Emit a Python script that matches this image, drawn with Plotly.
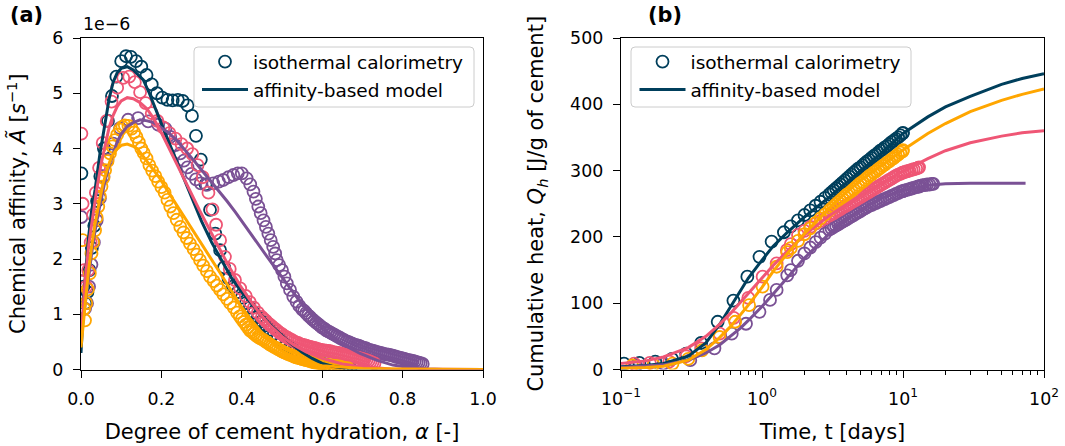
import plotly.graph_objects as go

W, H = 1065, 446
FONT = "DejaVu Sans"

TEAL, PURPLE, PINK, ORANGE = "#003f5c", "#7a5195", "#ef5675", "#ffa600"

# ---------------- panel (a): chemical affinity (1e-6 1/s) vs degree of hydration
a_alpha_teal = [0.001, 0.006, 0.011, 0.016, 0.021, 0.027, 0.033, 0.040, 0.048, 0.057, 0.067, 0.077,
                0.088, 0.100, 0.112, 0.124, 0.137, 0.150, 0.163, 0.176, 0.189, 0.202, 0.215, 0.228,
                0.241, 0.253, 0.265, 0.276, 0.286, 0.298, 0.310, 0.321, 0.334, 0.346, 0.356, 0.367,
                0.378, 0.390, 0.400, 0.410, 0.420, 0.430, 0.440, 0.450, 0.460, 0.470, 0.480, 0.490,
                0.500, 0.510, 0.520, 0.530, 0.540, 0.550, 0.560, 0.570, 0.580, 0.590, 0.600, 0.610,
                0.620, 0.630, 0.640, 0.650, 0.660, 0.670]
a_aff_teal = [3.55, 1.50, 1.20, 1.40, 1.80, 2.20, 2.60, 3.05, 3.50, 4.00, 4.50, 4.95,
              5.30, 5.58, 5.67, 5.66, 5.58, 5.48, 5.33, 5.16, 5.00, 4.92, 4.88, 4.87,
              4.88, 4.86, 4.78, 4.59, 4.23, 3.80, 3.35, 2.89, 2.46, 2.16, 1.85, 1.65,
              1.50, 1.40, 1.30, 1.20, 1.12, 1.03, 0.95, 0.87, 0.80, 0.72, 0.65, 0.58,
              0.52, 0.46, 0.40, 0.35, 0.30, 0.26, 0.22, 0.19, 0.16, 0.13, 0.11, 0.09,
              0.07, 0.06, 0.05, 0.04, 0.03, 0.02]

a_alpha_purple = [0.001, 0.005, 0.010, 0.015, 0.020, 0.026, 0.032, 0.039, 0.047, 0.056, 0.066, 0.080,
                  0.097, 0.117, 0.142, 0.167, 0.192, 0.210, 0.222, 0.235, 0.247, 0.256, 0.265, 0.275,
                  0.286, 0.298, 0.313, 0.329, 0.343, 0.354, 0.367, 0.379, 0.390, 0.400, 0.412, 0.421,
                  0.429, 0.435, 0.441, 0.447, 0.454, 0.460, 0.466, 0.472, 0.478, 0.483, 0.487, 0.493,
                  0.500, 0.506, 0.512, 0.520, 0.528, 0.536, 0.543,
                  0.550, 0.555, 0.560, 0.565, 0.570, 0.575, 0.580, 0.585, 0.590, 0.595, 0.600, 0.605,
                  0.610, 0.615, 0.620, 0.625, 0.630, 0.635, 0.640, 0.645, 0.650, 0.655, 0.660, 0.665,
                  0.670, 0.675, 0.680, 0.685, 0.690, 0.695, 0.700, 0.705, 0.710, 0.715, 0.720, 0.725,
                  0.730, 0.735, 0.740, 0.745, 0.750, 0.755, 0.760, 0.765, 0.770, 0.775, 0.780, 0.785,
                  0.790, 0.795, 0.800, 0.805, 0.810, 0.815, 0.820, 0.825, 0.830, 0.835, 0.840, 0.845,
                  0.850]
a_aff_purple = [2.76, 1.60, 1.10, 1.20, 1.50, 1.90, 2.30, 2.70, 3.10, 3.50, 3.80, 4.09,
                4.37, 4.52, 4.55, 4.49, 4.43, 4.36, 4.21, 4.06, 3.91, 3.78, 3.66, 3.54,
                3.44, 3.37, 3.34, 3.37, 3.40, 3.43, 3.48, 3.52, 3.55, 3.55, 3.46, 3.35,
                3.22, 3.09, 2.95, 2.83, 2.70, 2.58, 2.46, 2.34, 2.22, 2.10, 1.98, 1.89,
                1.80, 1.68, 1.56, 1.44, 1.32, 1.23, 1.15,
                1.09, 1.06, 1.02, 0.98, 0.95, 0.91, 0.88, 0.85, 0.82, 0.79, 0.76, 0.74,
                0.71, 0.69, 0.67, 0.65, 0.63, 0.61, 0.59, 0.57, 0.55, 0.53, 0.51, 0.50,
                0.48, 0.47, 0.45, 0.44, 0.43, 0.42, 0.40, 0.39, 0.38, 0.36, 0.35, 0.34,
                0.33, 0.32, 0.31, 0.30, 0.29, 0.28, 0.275, 0.27, 0.26, 0.25, 0.24, 0.23,
                0.22, 0.21, 0.20, 0.19, 0.18, 0.17, 0.165, 0.155, 0.145, 0.135, 0.125, 0.115,
                0.10]

a_alpha_pink = [0.001, 0.004, 0.008, 0.013, 0.018, 0.024, 0.030, 0.037, 0.045, 0.054, 0.064, 0.076,
                0.090, 0.105, 0.120, 0.134, 0.147, 0.161, 0.176, 0.190, 0.205, 0.220, 0.235, 0.250,
                0.264, 0.277, 0.290, 0.303, 0.317, 0.327, 0.336, 0.346, 0.358, 0.370, 0.383, 0.396,
                0.410, 0.420, 0.430, 0.440,
                0.450, 0.455, 0.460, 0.465, 0.470, 0.475, 0.480, 0.485, 0.490, 0.495, 0.500, 0.505,
                0.510, 0.515, 0.520, 0.525, 0.530, 0.535, 0.540, 0.545, 0.550, 0.555, 0.560, 0.565,
                0.570, 0.575, 0.580, 0.585, 0.590, 0.595, 0.600, 0.605, 0.610, 0.615, 0.620, 0.625,
                0.630, 0.635, 0.640, 0.645, 0.650, 0.655, 0.660, 0.665, 0.670, 0.675, 0.680, 0.685,
                0.690, 0.695, 0.700, 0.705, 0.710, 0.715, 0.720, 0.725, 0.730]
a_aff_pink = [4.27, 3.00, 1.80, 1.50, 1.80, 2.30, 2.80, 3.20, 3.65, 4.10, 4.50, 4.85,
              5.10, 5.28, 5.30, 5.20, 5.02, 4.82, 4.64, 4.50, 4.38, 4.28, 4.18, 4.08,
              4.00, 3.90, 3.70, 3.48, 3.20, 2.90, 2.62, 2.34, 2.04, 1.82, 1.62, 1.47,
              1.33, 1.22, 1.12, 1.03,
              0.95, 0.91, 0.88, 0.84, 0.81, 0.78, 0.75, 0.72, 0.69, 0.66, 0.64, 0.61,
              0.59, 0.57, 0.55, 0.53, 0.51, 0.49, 0.48, 0.46, 0.45, 0.44, 0.43, 0.42,
              0.41, 0.40, 0.39, 0.38, 0.37, 0.36, 0.35, 0.345, 0.34, 0.335, 0.33, 0.32,
              0.31, 0.305, 0.30, 0.29, 0.28, 0.27, 0.26, 0.255, 0.25, 0.24, 0.23, 0.22,
              0.21, 0.20, 0.19, 0.18, 0.17, 0.155, 0.14, 0.125, 0.11]

a_alpha_orange = [0.004, 0.008, 0.010, 0.013, 0.017, 0.022, 0.026, 0.030, 0.035, 0.039, 0.043, 0.047,
                  0.051, 0.056, 0.060, 0.066, 0.072, 0.078, 0.084, 0.090, 0.097, 0.103, 0.109, 0.118,
                  0.126, 0.132, 0.138, 0.144, 0.150, 0.156, 0.163, 0.170, 0.177, 0.185, 0.192, 0.200,
                  0.208, 0.215, 0.222, 0.230, 0.238, 0.247, 0.255, 0.263, 0.271, 0.280, 0.288, 0.296,
                  0.304, 0.313, 0.321, 0.330, 0.338, 0.346, 0.354, 0.363, 0.371, 0.380, 0.388, 0.395,
                  0.400, 0.405, 0.410, 0.415, 0.420, 0.425, 0.430, 0.435, 0.440, 0.445, 0.450, 0.455,
                  0.460, 0.465, 0.470, 0.475, 0.480, 0.485, 0.490, 0.495, 0.500, 0.505, 0.510, 0.515,
                  0.520, 0.525, 0.530, 0.535, 0.540, 0.545, 0.550, 0.555, 0.560, 0.565, 0.570, 0.575,
                  0.580, 0.585, 0.590, 0.595, 0.600, 0.605, 0.610, 0.615, 0.620, 0.625, 0.630, 0.635,
                  0.640, 0.645, 0.650, 0.655, 0.660, 0.665]
a_aff_orange = [2.34, 1.10, 0.89, 1.20, 1.45, 1.74, 2.10, 2.30, 2.52, 2.75, 2.95, 3.13,
                3.31, 3.47, 3.61, 3.77, 3.91, 4.04, 4.15, 4.25, 4.34, 4.39, 4.42, 4.41,
                4.36, 4.29, 4.21, 4.11, 4.00, 3.92, 3.82, 3.70, 3.60, 3.50, 3.40, 3.30,
                3.20, 3.07, 2.95, 2.83, 2.71, 2.58, 2.48, 2.38, 2.28, 2.18, 2.08, 1.98,
                1.88, 1.78, 1.68, 1.60, 1.52, 1.44, 1.36, 1.28, 1.20, 1.12, 1.03, 0.96,
                0.91, 0.86, 0.81, 0.76, 0.71, 0.68, 0.65, 0.62, 0.59, 0.57, 0.55, 0.53,
                0.50, 0.48, 0.45, 0.43, 0.41, 0.39, 0.37, 0.35, 0.33, 0.31, 0.295, 0.28,
                0.265, 0.25, 0.235, 0.22, 0.21, 0.20, 0.19, 0.18, 0.17, 0.16, 0.15, 0.14,
                0.13, 0.12, 0.115, 0.11, 0.10, 0.09, 0.085, 0.08, 0.075, 0.07, 0.065, 0.06,
                0.055, 0.05, 0.04, 0.03, 0.025, 0.02]

m_alpha_teal = [0.0, 0.005, 0.01, 0.018, 0.026, 0.035, 0.047, 0.06, 0.07, 0.08, 0.09, 0.10, 0.115,
                0.13, 0.155, 0.17, 0.189, 0.20, 0.225, 0.25, 0.275, 0.30, 0.325, 0.35, 0.375, 0.40,
                0.425, 0.45, 0.475, 0.50, 0.525, 0.55, 0.575, 0.60, 0.625, 0.65, 0.675, 0.70, 1.0]
m_aff_teal = [0.30, 1.00, 1.60, 2.34, 2.85, 3.25, 3.90, 4.46, 4.90, 5.20, 5.37, 5.45, 5.48,
              5.42, 5.24, 5.00, 4.64, 4.45, 4.00, 3.55, 3.10, 2.68, 2.30, 1.97, 1.65, 1.40,
              1.18, 0.97, 0.78, 0.61, 0.45, 0.31, 0.20, 0.11, 0.06, 0.03, 0.01, 0.0, 0.0]

m_alpha_purple = [0.0, 0.005, 0.01, 0.02, 0.03, 0.04, 0.05, 0.06, 0.07, 0.08, 0.09, 0.10, 0.115,
                  0.13, 0.147, 0.165, 0.18, 0.197, 0.215, 0.238, 0.26, 0.28, 0.30, 0.321, 0.342,
                  0.363, 0.384, 0.404, 0.425, 0.445, 0.466, 0.487, 0.508, 0.528, 0.553, 0.578,
                  0.602, 0.627, 0.66, 0.694, 0.735, 0.776, 0.82, 0.86, 0.90, 1.0]
m_aff_purple = [0.60, 0.90, 1.20, 1.80, 2.30, 2.72, 3.10, 3.42, 3.70, 3.93, 4.12, 4.26, 4.40,
                4.47, 4.52, 4.50, 4.47, 4.39, 4.30, 4.15, 3.97, 3.79, 3.61, 3.43, 3.25,
                3.05, 2.85, 2.64, 2.43, 2.22, 2.01, 1.80, 1.59, 1.38, 1.15, 0.95,
                0.76, 0.59, 0.42, 0.29, 0.17, 0.08, 0.03, 0.01, 0.0, 0.0]

m_alpha_pink = [0.0, 0.005, 0.01, 0.02, 0.03, 0.04, 0.05, 0.06, 0.07, 0.08, 0.09, 0.10, 0.115,
                0.13, 0.145, 0.164, 0.18, 0.197, 0.22, 0.245, 0.27, 0.295, 0.32, 0.345, 0.37,
                0.395, 0.42, 0.445, 0.47, 0.50, 0.528, 0.56, 0.60, 0.65, 0.70, 0.77, 1.0]
m_aff_pink = [0.50, 1.10, 1.60, 2.30, 2.85, 3.30, 3.72, 4.08, 4.38, 4.60, 4.76, 4.86, 4.92,
              4.90, 4.84, 4.72, 4.55, 4.33, 3.98, 3.60, 3.25, 2.88, 2.52, 2.18, 1.84,
              1.53, 1.26, 1.01, 0.80, 0.60, 0.45, 0.32, 0.20, 0.10, 0.05, 0.01, 0.0]

m_alpha_orange = [0.0, 0.005, 0.01, 0.018, 0.026, 0.035, 0.045, 0.055, 0.065, 0.076, 0.088, 0.101,
                  0.115, 0.13, 0.142, 0.158, 0.175, 0.197, 0.22, 0.245, 0.27, 0.295, 0.321, 0.345,
                  0.37, 0.395, 0.42, 0.445, 0.47, 0.50, 0.53, 0.56, 0.60, 0.65, 0.70, 0.80, 1.0]
m_aff_orange = [0.40, 0.80, 1.15, 1.74, 2.20, 2.64, 3.02, 3.37, 3.62, 3.85, 3.98, 4.06,
                4.08, 4.04, 3.98, 3.83, 3.67, 3.45, 3.18, 2.90, 2.62, 2.34, 2.04, 1.76,
                1.47, 1.18, 0.93, 0.71, 0.52, 0.33, 0.20, 0.12, 0.07, 0.04, 0.02, 0.01, 0.0]

# ---------------- panel (b): cumulative heat (J/g of cement) vs time (days)
# measurement times shared by all mixes from 1.6 days on (later points are logged more densely)
t_late = [1.6, 1.8, 2.0, 2.2, 2.4, 2.6, 2.8,
          3.0, 3.11, 3.23, 3.35, 3.47, 3.6, 3.73, 3.87, 4.01, 4.16, 4.31, 4.47, 4.64, 4.81, 4.99,
          5.17, 5.36, 5.56, 5.77, 5.98, 6.2, 6.43, 6.67, 6.91, 7.17, 7.43, 7.71, 7.99, 8.29, 8.59,
          8.91, 9.24, 9.58, 9.93, 10.0,
          10.3, 10.7, 11.1, 11.5, 11.9, 12.4, 12.8, 13.0,
          13.3, 13.8, 14.3, 14.8, 15.4, 16.0, 16.4]

b_t_teal_early = [0.105, 0.135, 0.175, 0.23, 0.29, 0.37, 0.485, 0.627, 0.787, 0.96, 1.17, 1.43]
b_q_teal_early = [9, 10, 12, 16, 24, 40, 72, 104, 140, 170, 193, 207]
b_q_teal_late = [216, 225, 233, 240, 247, 253, 259,
                 264, 267, 270, 273, 276, 279, 282, 285, 288, 291, 294, 297, 300, 303, 305,
                 308, 311, 314, 316, 319, 322, 324, 327, 330, 332, 335, 337, 340, 343, 345,
                 348, 350, 353, 356, 357]

b_t_purple_early = [0.128, 0.2, 0.31, 0.46, 0.61, 0.77, 0.96, 1.14, 1.27, 1.51]
b_q_purple_early = [6, 9, 14, 32, 54, 69, 87, 105, 120, 142]
b_q_purple_late = [150, 164, 175, 184, 192, 199, 205,
                   211, 213, 215, 217, 219, 221, 223, 225, 227, 229, 231, 233, 235, 237, 239,
                   241, 243, 245, 247, 248, 250, 251, 253, 254, 256, 257, 259, 260, 262, 263,
                   265, 266, 268, 269, 269,
                   270, 271, 272, 273, 274, 275, 276, 276,
                   277, 278, 278, 279, 279, 280, 280]

b_t_pink_early = [0.124, 0.16, 0.22, 0.29, 0.37, 0.5, 0.63, 0.8, 1.01, 1.27, 1.5]
b_q_pink_early = [9, 10, 12, 20, 32, 54, 78, 108, 140, 160, 180]
b_q_pink_late = [189, 203, 209, 215, 220, 224, 228,
                 232, 234, 236, 238, 240, 242, 244, 246, 248, 250, 252, 254, 256, 258, 260,
                 262, 264, 266, 268, 270, 272, 274, 276, 278, 280, 282, 284, 286, 288, 290,
                 292, 294, 295, 297, 297,
                 298, 299, 300, 301, 302, 303, 304, 305]

b_t_orange_early = [0.12, 0.17, 0.232, 0.3, 0.376, 0.5, 0.645, 0.81, 1.01, 1.27, 1.51]
b_q_orange_early = [6, 7, 9, 16, 29, 49, 72, 97, 125, 155, 177]
b_q_orange_late = [183, 194, 204, 213, 221, 228, 234,
                   240, 243, 246, 249, 252, 255, 258, 261, 264, 266, 269, 272, 275, 278, 281,
                   283, 286, 289, 292, 294, 297, 299, 302, 304, 307, 309, 312, 314, 317, 319,
                   322, 324, 327, 329, 331]

bm_t = [0.1, 0.15, 0.2, 0.3, 0.4, 0.5, 0.6, 0.7, 0.8, 1.0, 1.2, 1.5, 2, 3, 4, 5, 7, 10, 15, 20,
        30, 50, 70, 100]
bm_q_teal = [4, 6, 9, 20, 40, 68, 95, 118, 138, 165, 186, 206, 230, 260, 282, 299, 326, 356,
             381, 396, 412, 430, 439, 446]
bm_q_pink = [9, 13, 19, 33, 50, 68, 85, 101, 115, 138, 157, 178, 203, 232, 250, 263, 281, 299,
             318, 330, 342, 352, 357, 360]
bm_q_orange = [2, 3, 5, 14, 30, 48, 65, 82, 97, 124, 148, 174, 205, 243, 268, 285, 308, 331,
               356, 371, 389, 406, 415, 423]
bm_t_purple = [0.1, 0.15, 0.2, 0.3, 0.4, 0.5, 0.6, 0.7, 0.8, 1.0, 1.2, 1.5, 2, 3, 4, 5, 7, 10, 15,
               20, 30, 50, 74]
bm_q_purple = [3, 5, 7, 14, 25, 37, 50, 62, 74, 95, 114, 138, 168, 205, 227, 241, 258, 270, 278,
               280, 281, 281, 281]

LBL_EXP = "isothermal calorimetry"
LBL_MOD = "affinity-based model"


def series(t_early, q_early, q_late):
    """Join the sparse early readings with the densely logged later ones."""
    return t_early + t_late[:len(q_late)], q_early + q_late


fig = go.Figure()


def exp_trace(x, y, color, xa, ya, legend, show):
    return go.Scatter(x=x, y=y, mode="markers", name=LBL_EXP, xaxis=xa, yaxis=ya,
                      marker=dict(symbol="circle-open", size=12, color=color,
                                  line=dict(width=1.8, color=color)),
                      showlegend=show, legend=legend, legendgroup=legend + "e")


def mod_trace(x, y, color, xa, ya, legend, show):
    return go.Scatter(x=x, y=y, mode="lines", name=LBL_MOD, xaxis=xa, yaxis=ya,
                      line=dict(color=color, width=3), showlegend=show,
                      legend=legend, legendgroup=legend + "m")


# panel (a): measurements first, model curves on top
for x, y, c, s in [(a_alpha_teal, a_aff_teal, TEAL, True), (a_alpha_purple, a_aff_purple, PURPLE, False),
                   (a_alpha_pink, a_aff_pink, PINK, False), (a_alpha_orange, a_aff_orange, ORANGE, False)]:
    fig.add_trace(exp_trace(x, y, c, "x", "y", "legend", s))
for x, y, c, s in [(m_alpha_teal, m_aff_teal, TEAL, True), (m_alpha_purple, m_aff_purple, PURPLE, False),
                   (m_alpha_pink, m_aff_pink, PINK, False), (m_alpha_orange, m_aff_orange, ORANGE, False)]:
    fig.add_trace(mod_trace(x, y, c, "x", "y", "legend", s))

# panel (b)
for (x, y), c, s in [(series(b_t_teal_early, b_q_teal_early, b_q_teal_late), TEAL, True),
                     (series(b_t_purple_early, b_q_purple_early, b_q_purple_late), PURPLE, False),
                     (series(b_t_pink_early, b_q_pink_early, b_q_pink_late), PINK, False),
                     (series(b_t_orange_early, b_q_orange_early, b_q_orange_late), ORANGE, False)]:
    fig.add_trace(exp_trace(x, y, c, "x2", "y2", "legend2", s))
for x, y, c, s in [(bm_t, bm_q_teal, TEAL, True), (bm_t_purple, bm_q_purple, PURPLE, False),
                   (bm_t, bm_q_pink, PINK, False), (bm_t, bm_q_orange, ORANGE, False)]:
    fig.add_trace(mod_trace(x, y, c, "x2", "y2", "legend2", s))


def px(v):
    return v / W


def py(v):
    return 1 - v / H


def rounded_box(x0, y0, x1, y1, r):
    pts = [
        f"M{px(x0 + r)},{py(y0)}", f"L{px(x1 - r)},{py(y0)}", f"Q{px(x1)},{py(y0)} {px(x1)},{py(y0 + r)}",
        f"L{px(x1)},{py(y1 - r)}", f"Q{px(x1)},{py(y1)} {px(x1 - r)},{py(y1)}",
        f"L{px(x0 + r)},{py(y1)}", f"Q{px(x0)},{py(y1)} {px(x0)},{py(y1 - r)}",
        f"L{px(x0)},{py(y0 + r)}", f"Q{px(x0)},{py(y0)} {px(x0 + r)},{py(y0)}", "Z"]
    return dict(type="path", xref="paper", yref="paper", path=" ".join(pts), layer="above",
                fillcolor="rgba(255,255,255,0.8)", line=dict(color="#cccccc", width=1))


AX = dict(showline=True, linecolor="black", linewidth=1.4, mirror=True, ticks="outside",
          ticklen=7, tickwidth=1.4, tickcolor="black", showgrid=False, zeroline=False,
          automargin=False,
          tickfont=dict(family=FONT, size=17.4, color="black"), ticklabelstandoff=6)
TITLE_FONT = dict(family=FONT, size=21, color="black")

ydom = [(H - 369.5) / H, (H - 38) / H]

LEG = dict(xanchor="left", yanchor="top", bgcolor="rgba(0,0,0,0)", borderwidth=0,
           font=dict(family=FONT, size=18.5, color="black"), tracegroupgap=1, itemwidth=46)

fig.update_layout(
    width=W, height=H, margin=dict(l=0, r=0, t=0, b=0, autoexpand=False),
    paper_bgcolor="white", plot_bgcolor="white",
    font=dict(family=FONT, color="black"),
    xaxis=dict(AX, domain=[81 / W, 483 / W], range=[0, 1],
               tickvals=[0, 0.2, 0.4, 0.6, 0.8, 1.0],
               ticktext=["0.0", "0.2", "0.4", "0.6", "0.8", "1.0"],
               title=dict(text="Degree of cement hydration, <i>α</i> [-]", font=TITLE_FONT, standoff=16)),
    yaxis=dict(AX, domain=ydom, range=[0, 6], tickvals=[0, 1, 2, 3, 4, 5, 6],
               title=dict(text="Chemical affinity, <i>Ã</i> [<i>s</i><sup>−1</sup>]", font=TITLE_FONT, standoff=20)),
    xaxis2=dict(AX, domain=[621 / W, 1044 / W], type="log", range=[-1, 2],
                tickvals=[0.1, 1, 10, 100],
                ticktext=["10<sup>−1</sup>", "10<sup>0</sup>", "10<sup>1</sup>", "10<sup>2</sup>"],
                minor=dict(ticks="outside", ticklen=4, tickwidth=1, tickcolor="black",
                           tickvals=[0.2, 0.3, 0.4, 0.5, 0.6, 0.7, 0.8, 0.9,
                                     2, 3, 4, 5, 6, 7, 8, 9, 20, 30, 40, 50, 60, 70, 80, 90]),
                anchor="y2",
                title=dict(text="Time, t [days]", font=TITLE_FONT, standoff=16)),
    yaxis2=dict(AX, domain=ydom, range=[0, 500], tickvals=[0, 100, 200, 300, 400, 500], anchor="x2",
                title=dict(text="Cumulative heat, <i>Q<sub>h</sub></i> [J/g of cement]", font=TITLE_FONT, standoff=20)),
    legend=dict(LEG, x=px(197), y=py(43)),
    legend2=dict(LEG, x=px(634.5), y=py(43)),
    shapes=[rounded_box(194, 47, 474, 107, 4), rounded_box(631, 47, 911, 107, 4)],
    annotations=[
        dict(text="<b>(a)</b>", x=px(8), y=py(15), xref="paper", yref="paper", xanchor="left",
             yanchor="middle", showarrow=False, font=dict(family=FONT, size=20.8, color="black")),
        dict(text="<b>(b)</b>", x=px(646), y=py(15), xref="paper", yref="paper", xanchor="left",
             yanchor="middle", showarrow=False, font=dict(family=FONT, size=20.8, color="black")),
        dict(text="1e−6", x=px(81), y=py(24), xref="paper", yref="paper", xanchor="left",
             yanchor="middle", showarrow=False, font=dict(family=FONT, size=17.4, color="black")),
    ],
)

fig.write_html("out.html")
